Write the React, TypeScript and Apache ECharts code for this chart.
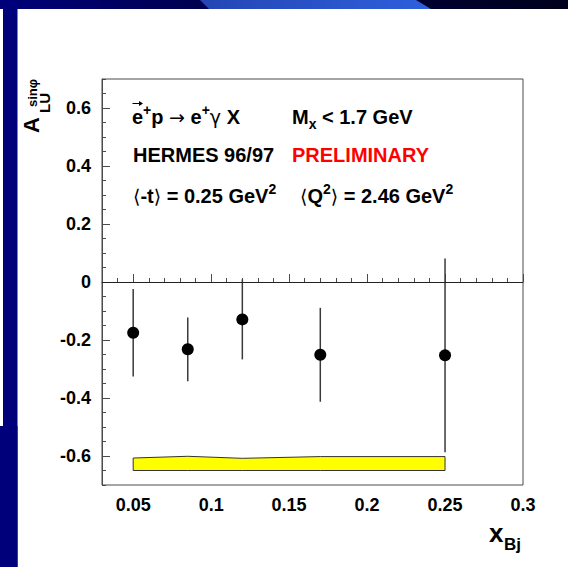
import React, { useEffect, useRef } from 'react';
import * as echarts from 'echarts';

// Beam-spin asymmetry A_LU^{sin phi} versus x_Bj (HERMES 96/97, preliminary)
const xBj = [0.05, 0.085, 0.12, 0.17, 0.25];
const asymmetry = [-0.175, -0.232, -0.129, -0.251, -0.253];
const statError = [0.151, 0.11, 0.138, 0.162, 0.334];

// Systematic uncertainty band, drawn upward from a fixed baseline
const sysBaseline = -0.65;
const sysError = [0.043, 0.049, 0.042, 0.048, 0.048];

const xTickLabels = [0.05, 0.1, 0.15, 0.2, 0.25, 0.3];
const yTickLabels = [-0.6, -0.4, -0.2, 0, 0.2, 0.4, 0.6];

const FONT = 'Liberation Sans, Arial, Helvetica, sans-serif';
const SYMBOL_FONT = 'DejaVu Sans, sans-serif';
const AXIS_COLOR = '#4a4a4a';

export default function App() {
  const ref = useRef<HTMLDivElement>(null);

  useEffect(() => {
    if (!ref.current) return;
    const chart = echarts.init(ref.current, undefined, { renderer: 'svg' });

    const txt = { fontFamily: FONT, fontWeight: 'bold' as const, fill: '#000' };
    const richBase = {
      t: { ...txt, fontSize: 20, lineHeight: 28 },
      s: { ...txt, fontSize: 14, lineHeight: 14, verticalAlign: 'top' },
      b: { ...txt, fontSize: 14, lineHeight: 12, verticalAlign: 'bottom' },
      g: { fontFamily: SYMBOL_FONT, fontWeight: 'normal', fill: '#000', fontSize: 19, lineHeight: 28 },
    };

    const option: any = {
      animation: false,
      backgroundColor: '#ffffff',
      grid: {
        left: 102,
        top: 79,
        right: 45,
        bottom: 82,
        show: true,
        borderColor: AXIS_COLOR,
        borderWidth: 1,
        backgroundColor: '#ffffff',
      },
      xAxis: [
        {
          type: 'value',
          min: 0.03,
          max: 0.3,
          interval: 0.01,
          position: 'bottom',
          axisLine: { show: true, lineStyle: { color: AXIS_COLOR, width: 1 } },
          axisTick: { show: true, inside: true, length: 4, lineStyle: { color: AXIS_COLOR } },
          axisLabel: {
            customValues: xTickLabels,
            formatter: (v: number) => String(+v.toFixed(3)),
            color: '#000',
            fontFamily: FONT,
            fontWeight: 'bold',
            fontSize: 18,
            margin: 11,
          },
          splitLine: { show: false },
        },
        {
          type: 'value',
          min: 0.03,
          max: 0.3,
          interval: 0.01,
          position: 'bottom',
          axisLine: { show: false },
          axisTick: {
            show: true,
            inside: true,
            length: 8,
            customValues: xTickLabels,
            lineStyle: { color: AXIS_COLOR },
          },
          axisLabel: { show: false },
          splitLine: { show: false },
        },
      ],
      yAxis: [
        {
          type: 'value',
          min: -0.7,
          max: 0.7,
          interval: 0.05,
          position: 'left',
          axisLine: { show: true, lineStyle: { color: AXIS_COLOR, width: 1 } },
          axisTick: { show: true, inside: true, length: 4, lineStyle: { color: AXIS_COLOR } },
          axisLabel: {
            customValues: yTickLabels,
            formatter: (v: number) => String(+v.toFixed(2)),
            color: '#000',
            fontFamily: FONT,
            fontWeight: 'bold',
            fontSize: 18,
            margin: 11,
          },
          splitLine: { show: false },
        },
        {
          type: 'value',
          min: -0.7,
          max: 0.7,
          interval: 0.05,
          position: 'left',
          axisLine: { show: false },
          axisTick: {
            show: true,
            inside: true,
            length: 8,
            customValues: yTickLabels,
            lineStyle: { color: AXIS_COLOR },
          },
          axisLabel: { show: false },
          splitLine: { show: false },
        },
      ],
      series: [
        {
          name: 'systematic',
          type: 'custom',
          xAxisIndex: 0,
          yAxisIndex: 0,
          data: xBj.map((x, i) => [x, sysBaseline + sysError[i]]),
          renderItem: (params: any, api: any) => {
            if (params.dataIndex !== 0) return null;
            const top = xBj.map((x, i) => api.coord([x, sysBaseline + sysError[i]]));
            const bottom = xBj
              .slice()
              .reverse()
              .map((x) => api.coord([x, sysBaseline]));
            return {
              type: 'polygon',
              shape: { points: top.concat(bottom) },
              style: { fill: '#ffff00', stroke: '#333', lineWidth: 1 },
            };
          },
          silent: true,
        },
        {
          name: 'stat',
          type: 'custom',
          xAxisIndex: 0,
          yAxisIndex: 0,
          data: xBj.map((x, i) => [x, asymmetry[i] - statError[i], asymmetry[i] + statError[i]]),
          renderItem: (_params: any, api: any) => {
            const lo = api.coord([api.value(0), api.value(1)]);
            const hi = api.coord([api.value(0), api.value(2)]);
            return {
              type: 'line',
              shape: { x1: lo[0], y1: lo[1], x2: hi[0], y2: hi[1] },
              style: { stroke: '#3a3a3a', lineWidth: 1.5 },
            };
          },
          silent: true,
        },
        {
          name: 'asymmetry',
          type: 'scatter',
          xAxisIndex: 0,
          yAxisIndex: 0,
          data: xBj.map((x, i) => [x, asymmetry[i]]),
          symbol: 'circle',
          symbolSize: 12,
          itemStyle: { color: '#000', opacity: 1 },
          silent: true,
          markLine: {
            silent: true,
            symbol: 'none',
            label: { show: false },
            lineStyle: { color: '#222', width: 1, type: 'solid' },
            data: [{ yAxis: 0 }],
          },
        },
      ],
      graphic: [
        // slide decoration: top band, highlight swoosh and left strip
        {
          type: 'rect',
          z: -10,
          shape: { x: 0, y: 0, width: 568, height: 9 },
          style: {
            fill: new echarts.graphic.LinearGradient(0, 0, 1, 0, [
              { offset: 0, color: '#00007a' },
              { offset: 0.35, color: '#000050' },
              { offset: 1, color: '#00001c' },
            ]),
          },
        },
        {
          type: 'polygon',
          z: -9,
          shape: { points: [[200, 0], [416, 0], [431, 9], [209, 9]] },
          style: {
            fill: new echarts.graphic.LinearGradient(0, 0, 1, 0, [
              { offset: 0, color: '#2446b4' },
              { offset: 1, color: '#2f5fdc' },
            ]),
          },
        },
        {
          type: 'rect',
          z: -10,
          shape: { x: 3, y: 0, width: 14.5, height: 567 },
          style: { fill: '#00007b' },
        },
        {
          type: 'rect',
          z: -10,
          shape: { x: 0, y: 426, width: 17.5, height: 141 },
          style: { fill: '#00007b' },
        },
        // polarisation arrow over the beam positron
        {
          type: 'line',
          shape: { x1: 132.5, y1: 103.5, x2: 141.5, y2: 103.5 },
          style: { stroke: '#000', lineWidth: 1 },
        },
        {
          type: 'polygon',
          shape: { points: [[139, 101], [143, 103.5], [139, 106]] },
          style: { fill: '#000' },
        },
        // reaction and kinematics annotations
        {
          type: 'text',
          x: 132,
          y: 117,
          style: {
            ...txt,
            text: '{t|e}{s|+}{t|p }{g|→}{t| e}{s|+}{g|γ}{t| X}',
            verticalAlign: 'middle',
            rich: richBase,
          },
        },
        {
          type: 'text',
          x: 292,
          y: 117,
          style: {
            ...txt,
            text: '{t|M}{b|x}{t| < 1.7 GeV}',
            verticalAlign: 'middle',
            rich: richBase,
          },
        },
        {
          type: 'text',
          x: 133,
          y: 155,
          style: { ...txt, text: 'HERMES 96/97', fontSize: 20, verticalAlign: 'middle' },
        },
        {
          type: 'text',
          x: 292,
          y: 155,
          style: { ...txt, text: 'PRELIMINARY', fontSize: 20, fill: '#ff0000', verticalAlign: 'middle' },
        },
        {
          type: 'text',
          x: 133,
          y: 196,
          style: {
            ...txt,
            text: '{g|⟨}{t|-t}{g|⟩}{t| = 0.25 GeV}{s|2}',
            verticalAlign: 'middle',
            rich: richBase,
          },
        },
        {
          type: 'text',
          x: 300,
          y: 196,
          style: {
            ...txt,
            text: '{g|⟨}{t|Q}{s|2}{g|⟩}{t| = 2.46 GeV}{s|2}',
            verticalAlign: 'middle',
            rich: richBase,
          },
        },
        // x axis title
        {
          type: 'text',
          x: 489,
          y: 533,
          style: { ...txt, text: 'x', fontSize: 26, verticalAlign: 'middle' },
        },
        {
          type: 'text',
          x: 504,
          y: 544,
          style: { ...txt, text: 'Bj', fontSize: 17, verticalAlign: 'middle' },
        },
        // y axis title, rotated to read upward
        {
          type: 'text',
          x: 31,
          y: 125,
          rotation: Math.PI / 2,
          style: { ...txt, text: 'A', fontSize: 22, align: 'center', verticalAlign: 'middle' },
        },
        {
          type: 'text',
          x: 44,
          y: 103,
          rotation: Math.PI / 2,
          style: { ...txt, text: 'LU', fontSize: 15, align: 'center', verticalAlign: 'middle' },
        },
        {
          type: 'text',
          x: 32,
          y: 93,
          rotation: Math.PI / 2,
          style: { ...txt, text: 'sinφ', fontSize: 13, align: 'center', verticalAlign: 'middle' },
        },
      ],
    };

    chart.setOption(option);
    return () => chart.dispose();
  }, []);

  return (
    <div
      ref={ref}
      style={{ position: 'fixed', left: 0, top: 0, width: 568, height: 567, background: '#fff' }}
    />
  );
}
